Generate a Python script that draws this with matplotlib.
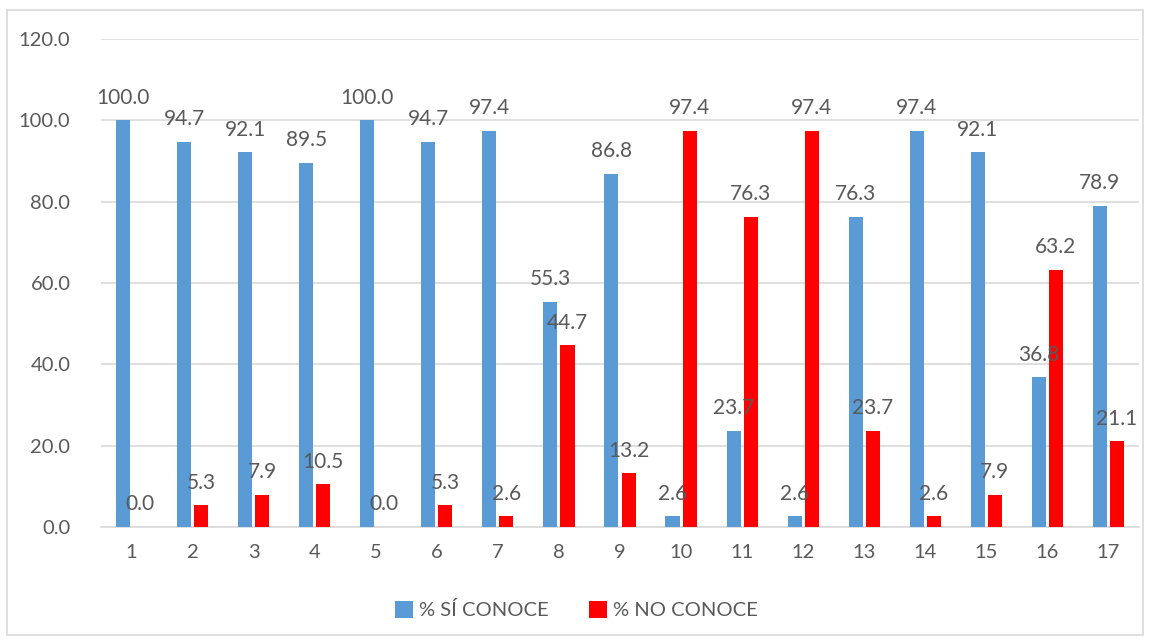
import matplotlib
matplotlib.use("Agg")
import matplotlib.pyplot as plt
import numpy as np
from matplotlib.patches import Rectangle

plt.rcParams['font.family'] = ['Lato', 'DejaVu Sans']

categories = [str(i) for i in range(1, 18)]
si_conoce = [100.0, 94.7, 92.1, 89.5, 100.0, 94.7, 97.4, 55.3, 86.8,
             2.6, 23.7, 2.6, 76.3, 97.4, 92.1, 36.8, 78.9]
no_conoce = [0.0, 5.3, 7.9, 10.5, 0.0, 5.3, 2.6, 44.7, 13.2,
             97.4, 76.3, 97.4, 23.7, 2.6, 7.9, 63.2, 21.1]

BLUE = '#5B9BD5'
RED = '#FF0000'
TXT = '#595959'

fig = plt.figure(figsize=(11.52, 6.42), dpi=100)
ax = fig.add_axes([101/1152, 1 - 527/642, (1139 - 101)/1152, (527 - 39)/642])

x = np.arange(len(categories))
w = 0.23
off = 0.14
b1 = ax.bar(x - off, si_conoce, w, color=BLUE, label='% SÍ CONOCE', zorder=3)
b2 = ax.bar(x + off, no_conoce, w, color=RED, label='% NO CONOCE', zorder=3)

# etiquetas encima de cada barra
for bars, vals in ((b1, si_conoce), (b2, no_conoce)):
    for r, v in zip(bars, vals):
        ax.annotate(f'{v:.1f}', (r.get_x() + r.get_width()/2, v),
                    xytext=(0, 12), textcoords='offset points',
                    ha='center', va='baseline', fontsize=15, color=TXT, zorder=4)

ax.set_xlim(-0.5, len(categories) - 0.5)
ax.set_ylim(0, 120)
ax.set_yticks(np.arange(0, 121, 20))
ax.set_yticklabels([f'{t:.1f}' for t in np.arange(0, 121, 20)])
ax.set_xticks(x)
ax.set_xticklabels(categories)
ax.tick_params(length=0, labelsize=14.5, colors=TXT)
ax.tick_params(axis='y', pad=22)
ax.tick_params(axis='x', pad=12)
ax.grid(axis='y', color='#D9D9D9', linewidth=1.2, zorder=0)
for s in ('left', 'right', 'top'):
    ax.spines[s].set_visible(False)
ax.spines['bottom'].set_color('#D9D9D9')
ax.spines['bottom'].set_linewidth(1.2)

fig.legend(handles=[b1, b2], loc='center', bbox_to_anchor=(0.5, 1 - 610/642),
           ncol=2, frameon=False, fontsize=14.5, labelcolor=TXT,
           handlelength=0.9, handleheight=0.9, handletextpad=0.3, columnspacing=2.0)

fig.patches.append(Rectangle((7/1152, 1 - 635/642), (1143 - 7)/1152, (635 - 10)/642,
                             transform=fig.transFigure, fill=False,
                             edgecolor='#D9D9D9', linewidth=1.2))

fig.savefig('out.png', dpi=100)
